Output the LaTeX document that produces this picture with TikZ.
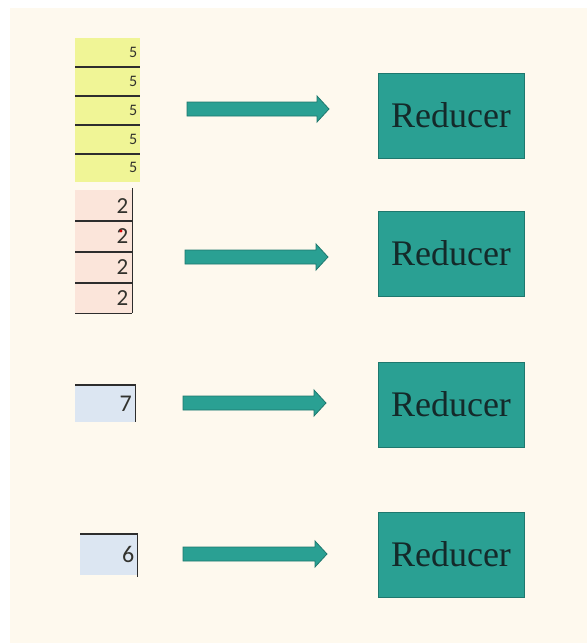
\documentclass[tikz,border=0pt]{standalone}
\usepackage{fontspec}
\setmainfont{Liberation Serif}
\newfontfamily\cellfont{Carlito}
\usetikzlibrary{calc}

\definecolor{paper}{RGB}{254,249,238}
\definecolor{tealfill}{RGB}{42,160,147}
\definecolor{tealedge}{RGB}{30,120,110}
\definecolor{inkdark}{RGB}{20,42,42}
\definecolor{cellyellow}{RGB}{240,245,150}
\definecolor{cellpink}{RGB}{251,229,218}
\definecolor{cellblue}{RGB}{220,230,242}
\definecolor{gridrule}{RGB}{45,45,45}
\definecolor{digitink}{RGB}{50,50,45}

% draws a block arrow between two named points
\newcommand\drawfatarrow[2]{%
  \filldraw[arrowbody] ($(#1)+(0,-7)$) -- ($(#2)+(-12,-7)$) -- ($(#2)+(-12,-13)$)
    -- (#2) -- ($(#2)+(-12,13)$) -- ($(#2)+(-12,7)$) -- ($(#1)+(0,7)$) -- cycle;}

\begin{document}
\begin{tikzpicture}[x=1pt,y=-1pt,
  reducer/.style={draw=tealedge, fill=tealfill, line width=1pt,
    minimum width=146pt, minimum height=85pt, inner sep=0pt,
    font=\fontsize{36}{38}\selectfont, text=inkdark},
  arrowbody/.style={fill=tealfill, draw=tealedge, line width=0.8pt, line join=miter},
  cellbase/.style={inner ysep=0pt, align=right, text=digitink, anchor=north west},
  ycell/.style={cellbase, fill=cellyellow, minimum height=28.8pt, text width=59pt,
    inner xsep=3pt, font=\cellfont\fontsize{16}{16}\selectfont},
  pcell/.style={cellbase, fill=cellpink, minimum height=30.75pt, text width=49pt,
    inner xsep=4pt, font=\cellfont\fontsize{23}{23}\selectfont},
  bcell/.style={cellbase, fill=cellblue, font=\cellfont\fontsize{24}{24}\selectfont},
  rule/.style={draw=gridrule, line width=1.8pt},
]
\useasboundingbox (0,0) rectangle (587,643);
\fill[white] (0,0) rectangle (587,643);
\fill[paper] (10,8) rectangle (587,643);

% yellow column of fives
\node[ycell] (y1) at (75,38)    {5};
\node[ycell] (y2) at (75,66.8)  {5};
\node[ycell] (y3) at (75,95.6)  {5};
\node[ycell] (y4) at (75,124.4) {5};
\node[ycell] (y5) at (75,153.2) {5};
\foreach \c in {y1,y2,y3,y4}
  \draw[rule] (\c.south west) -- (\c.south east);

% pink column of twos
\node[pcell] (p1) at (75,190)    {2};
\node[pcell] (p2) at (75,220.75) {2};
\node[pcell] (p3) at (75,251.5)  {2};
\node[pcell] (p4) at (75,282.25) {2};
\foreach \c in {p1,p2,p3,p4}
  \draw[rule] (\c.south west) -- (\c.south east);
\draw[rule] ($(p1.north east)+(0,-2)$) -- (p4.south east);
\fill[red!85!black] (121,231) circle (1.6);

% single blue cells
\node[bcell, minimum width=60pt, minimum height=37pt, text width=53pt, inner xsep=3.5pt] (b7) at (75,385) {7};
\draw[rule] (b7.north west) -- (b7.north east) -- (b7.south east);

\node[bcell, minimum width=57pt, minimum height=41pt, text width=51pt, inner xsep=3pt] (b6) at (80,534) {6};
\draw[rule] (b6.north west) -- (b6.north east) -- ($(b6.south east)+(0,2)$);

% reducers
\node[reducer] (r1) at (451,115.5) {Reducer};
\node[reducer] (r2) at (451,253.5) {Reducer};
\node[reducer] (r3) at (451,404.5) {Reducer};
\node[reducer] (r4) at (451,554.5) {Reducer};

% block arrows
\coordinate (s1) at (187,109); \coordinate (e1) at (329,109);
\coordinate (s2) at (185,257); \coordinate (e2) at (328,257);
\coordinate (s3) at (183,403); \coordinate (e3) at (326,403);
\coordinate (s4) at (183,554); \coordinate (e4) at (327,554);
\drawfatarrow{s1}{e1}
\drawfatarrow{s2}{e2}
\drawfatarrow{s3}{e3}
\drawfatarrow{s4}{e4}
\end{tikzpicture}
\end{document}
